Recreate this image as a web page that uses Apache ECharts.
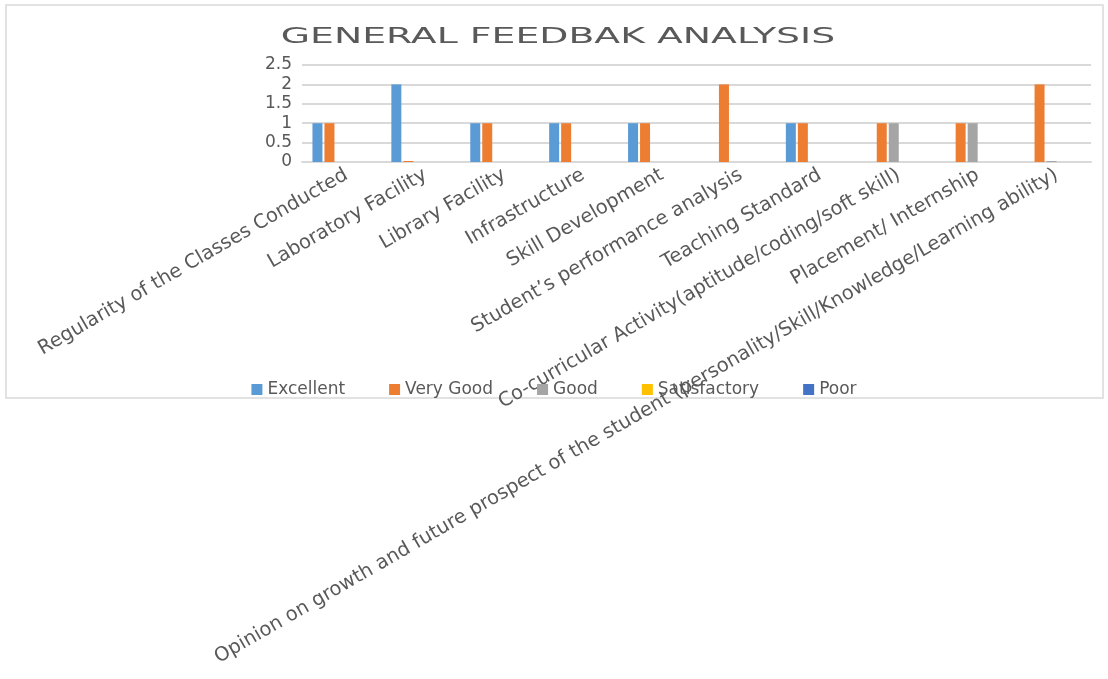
<!DOCTYPE html>
<html>
<head>
<meta charset="utf-8">
<script src="https://cdn.jsdelivr.net/npm/echarts@6/dist/echarts.min.js"></script>
<style>
  html, body { margin: 0; padding: 0; background: #fff; }
  #chart { width: 1108px; height: 679px; }
</style>
</head>
<body>
<div id="chart"></div>
<script>
const categories = [
  'Regularity of the Classes Conducted',
  'Laboratory Facility',
  'Library Facility',
  'Infrastructure',
  'Skill Development',
  'Student\u2019s performance analysis',
  'Teaching Standard',
  'Co-curricular Activity(aptitude/coding/soft skill)',
  'Placement/ Internship',
  'Opinion on growth and future prospect of the student (personality/Skill/Knowledge/Learning ability)'
]
const seriesNames = ['Excellent', 'Very Good', 'Good', 'Satisfactory', 'Poor']
const excellent = [1, 2, 1, 1, 1, null, 1, null, null, null]
const veryGood = [1, 0, 1, 1, 1, 2, 1, 1, 1, 2]
const good = [null, null, null, null, null, null, null, 1, 1, 0]
const satisfactory = [null, null, null, null, null, null, null, null, null, null]
const poor = [null, null, null, null, null, null, null, null, null, null]
const colors = ['#5b9bd5', '#ed7d31', '#a5a5a5', '#ffc000', '#4472c4']

const font = '"DejaVu Sans", sans-serif'
const textColor = '#595959'

let chart = echarts.init(document.getElementById('chart'))
let values = [excellent, veryGood, good, satisfactory, poor]

let option = {
  animation: false,
  color: colors,
  graphic: [
    {
      type: 'rect',
      shape: { x: 6, y: 5, width: 1097, height: 393 },
      style: { fill: 'none', stroke: '#d9d9d9', lineWidth: 1.5 },
      silent: true
    },
    {
      type: 'text',
      x: 558,
      y: 38,
      scaleX: 1.8,
      style: {
        text: 'GENERAL FEEDBAK ANALYSIS',
        font: '21px ' + font,
        fill: textColor,
        textAlign: 'center',
        textVerticalAlign: 'middle'
      },
      silent: true
    }
  ],
  legend: {
    data: seriesNames,
    top: 376,
    left: 'center',
    icon: 'rect',
    itemWidth: 11,
    itemHeight: 11,
    itemGap: 44,
    textStyle: { fontFamily: font, fontSize: 17, color: textColor }
  },
  grid: {
    left: 302,
    right: 17,
    top: 65,
    bottom: 517
  },
  xAxis: {
    type: 'category',
    data: categories,
    axisLine: { lineStyle: { color: '#d9d9d9', width: 2 } },
    axisTick: { show: false },
    axisLabel: {
      interval: 0,
      rotate: 30,
      margin: 3,
      align: 'right',
      verticalAlign: 'top',
      fontFamily: font,
      fontSize: 19.5,
      color: textColor
    }
  },
  yAxis: {
    type: 'value',
    min: 0,
    max: 2.5,
    interval: 0.5,
    axisLine: { show: false },
    axisTick: { show: false },
    splitLine: { lineStyle: { color: '#d9d9d9', width: 2 } },
    axisLabel: {
      margin: 10,
      fontFamily: font,
      fontSize: 17,
      color: textColor
    }
  },
  series: seriesNames.map((name, i) => ({
    name: name,
    type: 'bar',
    data: values[i],
    barWidth: 10,
    barGap: '20%',
    barMinHeight: 1
  }))
}
chart.setOption(option)
</script>
</body>
</html>
